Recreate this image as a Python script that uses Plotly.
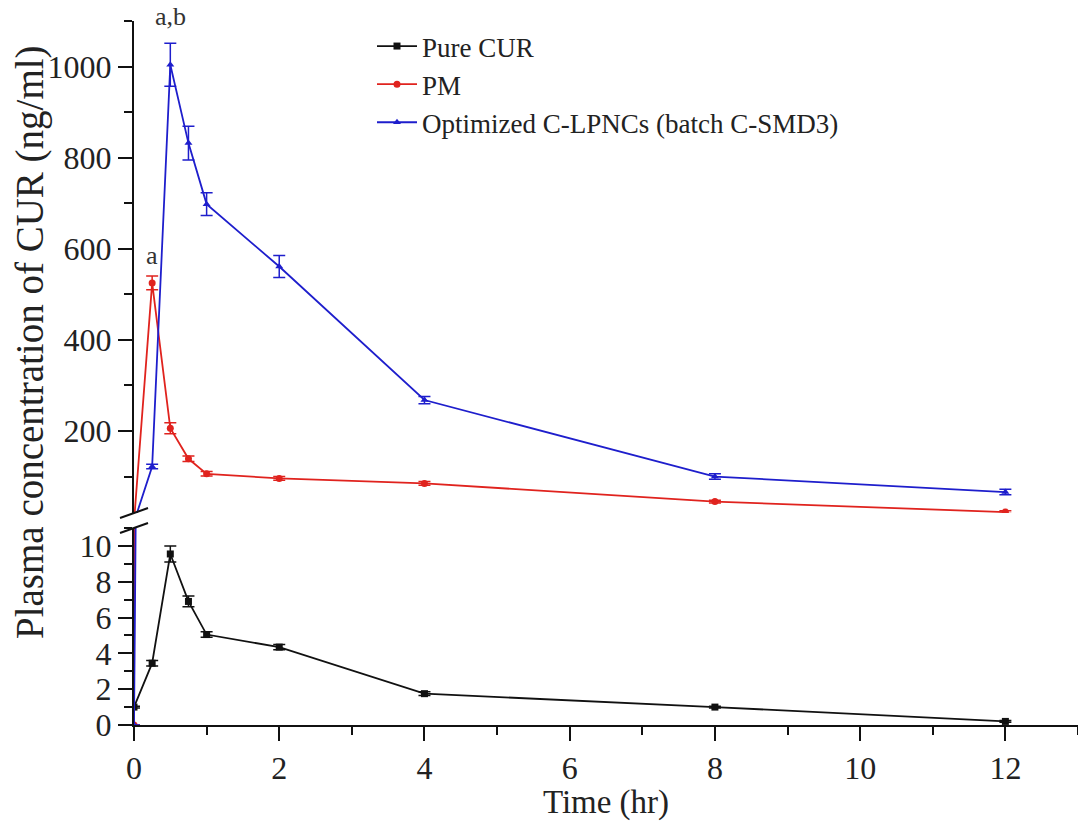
import plotly.graph_objects as go

# ---- data ----
time_hr = [0, 0.25, 0.5, 0.75, 1, 2, 4, 8, 12]

pure_cur = [1.0, 3.45, 9.55, 6.9, 5.05, 4.35, 1.75, 1.0, 0.2]
pure_cur_err = [0.05, 0.15, 0.45, 0.3, 0.15, 0.15, 0.1, 0.05, 0.05]

pm = [0, 525, 206, 139, 106, 96, 85, 45, 22]
pm_err = [0, 15, 12, 6, 5, 4, 4, 3, 3]

lpnc = [0, 122, 1004, 832, 698, 561, 268, 100, 66]
lpnc_err = [0, 5, 47, 37, 25, 24, 8, 6, 6]

series_names = ["Pure CUR", "PM", "Optimized C-LPNCs (batch C-SMD3)"]
x_ticks = [0, 2, 4, 6, 8, 10, 12]
low_ticks = [0, 2, 4, 6, 8, 10]
up_ticks = [200, 400, 600, 800, 1000]

BLACK = "#111111"
RED = "#E0231E"
BLUE = "#1E1ECC"
FONT = "Liberation Serif"

W, H = 1078, 821
ML, MR, MT, MB = 134, 0, 21, 96
plot_w = W - ML - MR
plot_h = H - MT - MB
low_top_px = 528
up_bot_px = 513
low_dom = [0, (H - MB - low_top_px) / plot_h]
up_dom = [(H - MB - up_bot_px) / plot_h, 1]

fig = go.Figure()


def add(x, y, err, name, color, symbol, yaxis, show):
    fig.add_trace(go.Scatter(
        x=x, y=y, name=name, mode="lines+markers", yaxis=yaxis,
        showlegend=show, legendgroup=name,
        line=dict(color=color, width=1.8),
        marker=dict(color=color, symbol=symbol, size=7),
        error_y=dict(type="data", array=err, color=color, thickness=1.5, width=6),
    ))


add(time_hr, pure_cur, pure_cur_err, series_names[0], BLACK, "square", "y", True)
add(time_hr, pm, pm_err, series_names[1], RED, "circle", "y2", True)
add(time_hr, lpnc, lpnc_err, series_names[2], BLUE, "triangle-up", "y2", True)
# the steep rise of PM / C-LPNCs also crosses the lower segment
add(time_hr, pm, pm_err, series_names[1], RED, "circle", "y", False)
add(time_hr, lpnc, lpnc_err, series_names[2], BLUE, "triangle-up", "y", False)

tickfont = dict(family=FONT, size=32, color="#222222")
tick_common = dict(ticks="outside", ticklen=14, tickwidth=2, tickcolor="#111",
                   showline=True, linecolor="#111", linewidth=2, showgrid=False,
                   zeroline=False, tickfont=tickfont)

fig.update_layout(
    width=W, height=H,
    margin=dict(l=ML, r=MR, t=MT, b=MB),
    paper_bgcolor="white", plot_bgcolor="white",
    font=dict(family=FONT, color="#222222"),
    xaxis=dict(
        range=[0, 13], domain=[0, 1], anchor="y", tickvals=x_ticks,
        minor=dict(dtick=1, tick0=0, ticks="outside", ticklen=8, tickwidth=2, tickcolor="#111"),
        title=dict(text="Time (hr)", font=dict(family=FONT, size=33, color="#222222"), standoff=4),
        **tick_common,
    ),
    yaxis=dict(
        range=[0, 11], domain=low_dom, anchor="x", tickvals=low_ticks,
        minor=dict(dtick=1, tick0=0, ticks="outside", ticklen=8, tickwidth=2, tickcolor="#111"),
        **tick_common,
    ),
    yaxis2=dict(
        range=[20, 1100], domain=up_dom, anchor="x", tickvals=up_ticks,
        minor=dict(dtick=100, tick0=0, ticks="outside", ticklen=8, tickwidth=2, tickcolor="#111"),
        **tick_common,
    ),
    legend=dict(
        x=(372 - ML) / plot_w, y=(H - MB - 22) / plot_h,
        xanchor="left", yanchor="top",
        font=dict(family=FONT, size=27, color="#222222"),
        bgcolor="rgba(0,0,0,0)", tracegroupgap=0, itemwidth=40,
    ),
    showlegend=True,
)

# significance labels
fig.add_annotation(x=0.5, y=(H - MB - 16) / plot_h, xref="x", yref="paper", text="a,b",
                   showarrow=False, yanchor="middle",
                   font=dict(family=FONT, size=26, color="#333333"))
fig.add_annotation(x=0.25, y=585, xref="x", yref="y2", text="a", showarrow=False,
                   font=dict(family=FONT, size=26, color="#333333"))

# y-axis title spanning both segments
fig.add_annotation(x=(30 - ML) / plot_w, y=(H - MB - 342) / plot_h,
                   xref="paper", yref="paper", text="Plasma concentration of CUR (ng/ml)",
                   textangle=-90, showarrow=False, xanchor="center", yanchor="middle",
                   font=dict(family=FONT, size=39, color="#222222"))


# axis break marks
def px2paper(px, py):
    return (px - ML) / plot_w, (H - MB - py) / plot_h


for cy in (up_bot_px, low_top_px):
    x0, y0 = px2paper(ML - 14, cy + 5)
    x1, y1 = px2paper(ML + 14, cy - 5)
    fig.add_shape(type="line", xref="paper", yref="paper", x0=x0, y0=y0, x1=x1, y1=y1,
                  line=dict(color="#111", width=2))

fig.write_html("out.html")
